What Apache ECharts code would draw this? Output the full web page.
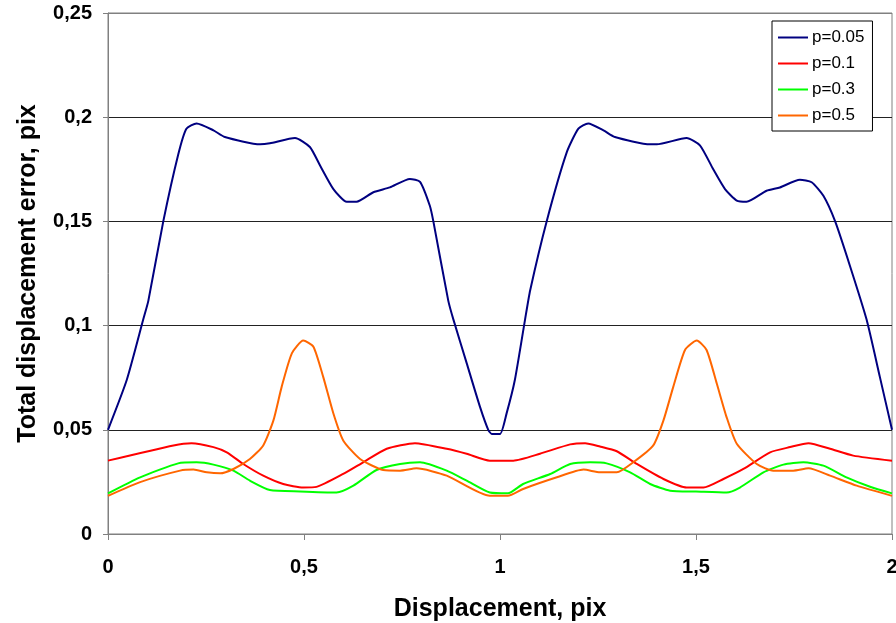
<!DOCTYPE html>
<html>
<head>
<meta charset="utf-8">
<script src="https://cdn.jsdelivr.net/npm/echarts@6/dist/echarts.min.js"></script>
<style>
  html, body { margin: 0; padding: 0; background: #fff; }
  #chart { width: 896px; height: 623px; }
</style>
</head>
<body>
<div id="chart"></div>
<script>
  // series names
  var seriesNames = ['p=0.05', 'p=0.1', 'p=0.3', 'p=0.5'];
  var xTicks = [0, 0.5, 1, 1.5, 2];
  var yTicks = [0, 0.05, 0.1, 0.15, 0.2, 0.25];

  // [displacement, error]
  var p005 = [[0, 0.050], [0.048, 0.074], [0.09, 0.103], [0.103, 0.112], [0.141, 0.150], [0.179, 0.182],
    [0.2, 0.1945], [0.226, 0.197], [0.269, 0.1937], [0.298, 0.1905], [0.388, 0.187], [0.413, 0.1875],
    [0.477, 0.190], [0.515, 0.1857], [0.541, 0.1768], [0.575, 0.1655], [0.609, 0.1594], [0.634, 0.1594],
    [0.677, 0.164], [0.719, 0.1663], [0.77, 0.1704], [0.796, 0.169], [0.821, 0.1575], [0.83, 0.150],
    [0.868, 0.112], [0.881, 0.103], [0.915, 0.082], [0.949, 0.061], [0.97, 0.050], [0.979, 0.048],
    [1.0, 0.048], [1.017, 0.058], [1.038, 0.074], [1.064, 0.103], [1.077, 0.117], [1.119, 0.150],
    [1.17, 0.183], [1.2, 0.1945], [1.225, 0.197], [1.264, 0.1937], [1.293, 0.1905], [1.383, 0.187],
    [1.40, 0.187], [1.476, 0.190], [1.51, 0.1865], [1.544, 0.175], [1.574, 0.1655], [1.604, 0.160],
    [1.629, 0.1594], [1.68, 0.1647], [1.714, 0.1663], [1.765, 0.170], [1.795, 0.1688], [1.825, 0.1623],
    [1.855, 0.150], [1.893, 0.1285], [1.935, 0.103], [1.969, 0.0754], [2.0, 0.050]];

  var p01 = [[0, 0.0352], [0.167, 0.0425], [0.213, 0.0436], [0.269, 0.0417], [0.303, 0.0392], [0.345, 0.0336],
    [0.396, 0.028], [0.447, 0.024], [0.498, 0.0223], [0.532, 0.0226], [0.6, 0.0288], [0.651, 0.0344],
    [0.711, 0.0409], [0.783, 0.0436], [0.864, 0.0409], [0.915, 0.0385], [0.974, 0.0352], [1.034, 0.0352],
    [1.102, 0.0385], [1.179, 0.043], [1.217, 0.0436], [1.255, 0.042], [1.298, 0.0397], [1.349, 0.0336],
    [1.417, 0.0264], [1.476, 0.0223], [1.519, 0.0223], [1.57, 0.0264], [1.621, 0.0312], [1.689, 0.0392],
    [1.74, 0.0417], [1.787, 0.0436], [1.842, 0.0409], [1.901, 0.0376], [2.0, 0.0352]];

  var p03 = [[0, 0.0195], [0.082, 0.0272], [0.179, 0.0339], [0.226, 0.0344], [0.269, 0.0333], [0.32, 0.0304],
    [0.362, 0.0256], [0.413, 0.0211], [0.49, 0.0204], [0.583, 0.0199], [0.626, 0.0232], [0.685, 0.0307],
    [0.745, 0.0336], [0.796, 0.0344], [0.864, 0.0304], [0.915, 0.0256], [0.974, 0.0199], [1.02, 0.0195],
    [1.059, 0.024], [1.128, 0.0288], [1.179, 0.0336], [1.23, 0.0344], [1.272, 0.0339], [1.332, 0.0296],
    [1.383, 0.024], [1.434, 0.0208], [1.5, 0.0204], [1.578, 0.0199], [1.612, 0.0223], [1.672, 0.0296],
    [1.723, 0.0333], [1.774, 0.0344], [1.825, 0.0328], [1.884, 0.0272], [1.944, 0.0227], [2.0, 0.0195]];

  var p05 = [[0, 0.0183], [0.082, 0.0249], [0.184, 0.0304], [0.218, 0.0309], [0.252, 0.0296], [0.286, 0.0291],
    [0.32, 0.0312], [0.362, 0.036], [0.396, 0.0425], [0.422, 0.0545], [0.443, 0.0706], [0.469, 0.0867],
    [0.498, 0.0928], [0.524, 0.0899], [0.549, 0.0754], [0.575, 0.0578], [0.6, 0.0449], [0.643, 0.036],
    [0.702, 0.0307], [0.745, 0.0304], [0.787, 0.0315], [0.864, 0.028], [0.974, 0.0183], [1.02, 0.0183],
    [1.059, 0.0216], [1.145, 0.0272], [1.213, 0.0309], [1.255, 0.0296], [1.298, 0.0296], [1.34, 0.0344],
    [1.391, 0.0425], [1.417, 0.0545], [1.442, 0.0706], [1.472, 0.0883], [1.502, 0.0928], [1.527, 0.0883],
    [1.553, 0.0722], [1.578, 0.0561], [1.604, 0.0433], [1.655, 0.0336], [1.697, 0.0304], [1.748, 0.0304],
    [1.787, 0.0315], [1.842, 0.028], [1.91, 0.0232], [2.0, 0.0183]];

  var chart = echarts.init(document.getElementById('chart'));
  var commaFmt = function (v) { return String(+v.toFixed(2)).replace('.', ','); };

  function line(name, data, color) {
    return {
      name: name,
      type: 'line',
      data: data,
      symbol: 'none',
      smooth: 0.2,
      lineStyle: { color: color, width: 2 },
      itemStyle: { color: color },
      animation: false
    };
  }

  var option = {
    backgroundColor: '#fff',
    textStyle: { fontFamily: 'Liberation Sans, Arial, sans-serif' },
    grid: {
      left: 108, right: 4, top: 13, bottom: 89,
      outerBoundsMode: 'none',
      show: true, borderColor: '#808080', borderWidth: 1
    },
    legend: {
      orient: 'vertical',
      left: 772, top: 21,
      padding: [8, 8, 7, 6],
      itemGap: 9,
      itemWidth: 30, itemHeight: 2,
      icon: 'rect',
      backgroundColor: '#fff',
      borderColor: '#000', borderWidth: 1,
      borderRadius: 0,
      textStyle: { fontSize: 17, color: '#000', fontFamily: 'Liberation Sans, Arial, sans-serif', padding: [0, 0, 0, -1] },
      data: seriesNames
    },
    xAxis: {
      type: 'value',
      min: xTicks[0], max: xTicks[xTicks.length - 1], interval: 0.5,
      name: 'Displacement, pix',
      nameLocation: 'middle', nameGap: 63,
      nameTextStyle: { fontSize: 25, fontWeight: 'bold', color: '#000' },
      axisLine: { lineStyle: { color: '#808080', width: 1 } },
      axisTick: { show: true, length: 6, lineStyle: { color: '#808080' } },
      axisLabel: { fontSize: 20, fontWeight: 'bold', color: '#000', margin: 23, formatter: commaFmt },
      splitLine: { show: false }
    },
    yAxis: {
      type: 'value',
      min: yTicks[0], max: yTicks[yTicks.length - 1], interval: 0.05,
      name: 'Total displacement error, pix',
      nameLocation: 'middle', nameGap: 67,
      nameTextStyle: { fontSize: 25, fontWeight: 'bold', color: '#000' },
      axisLine: { show: true, lineStyle: { color: '#808080', width: 1 } },
      axisTick: { show: true, length: 5, lineStyle: { color: '#808080' } },
      axisLabel: { fontSize: 20, fontWeight: 'bold', color: '#000', margin: 16, formatter: commaFmt },
      splitLine: { show: true, lineStyle: { color: ['#808080', '#222', '#222', '#222', '#222', '#808080'], width: 1 } }
    },
    series: [
      line(seriesNames[0], p005, '#000080'),
      line(seriesNames[1], p01, '#ff0000'),
      line(seriesNames[2], p03, '#00ff00'),
      line(seriesNames[3], p05, '#ff6600')
    ]
  };
  chart.setOption(option);
</script>
</body>
</html>
